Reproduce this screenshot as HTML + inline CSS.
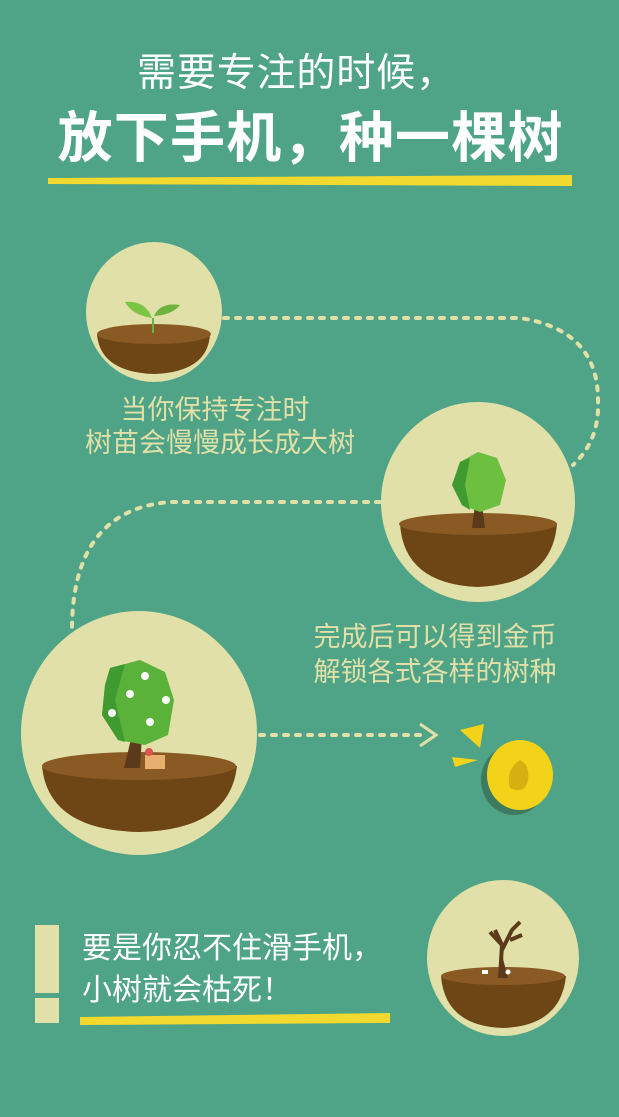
<!DOCTYPE html>
<html><head><meta charset="utf-8"><style>
html,body{margin:0;padding:0;background:#4fa386;}
svg{display:block}
text{font-family:"Liberation Sans","Noto Sans CJK SC",sans-serif}
</style></head><body>
<svg width="619" height="1117" viewBox="0 0 619 1117">
<rect width="619" height="1117" fill="#4fa386"/>
<text x="296" y="86" font-size="39" fill="#fff" text-anchor="middle" textLength="318">需要专注的时候，</text>
<text x="310" y="157" font-size="55" font-weight="bold" fill="#fff" text-anchor="middle" textLength="505">放下手机，种一棵树</text>
<path d="M48 178 L572 175 L572 186 L48 184 Z" fill="#f2d930"/>

<g fill="none" stroke="#e0e0a8" stroke-width="4" stroke-dasharray="4 8" stroke-linecap="round">
<path d="M224 318 L520 318 Q598 330 598 400 Q600 440 573 465"/>
<path d="M380 502 L170 502 Q72 510 72 630"/>
<path d="M260 735 L425 735"/>
</g>
<path d="M420 724 L436 735 L420 746" fill="none" stroke="#e0e0a8" stroke-width="3"/>

<g>
<ellipse cx="154" cy="312" rx="68" ry="70" fill="#e0e0a8"/>
<path d="M97 334 Q100 372 154 374 Q208 372 210 334 Z" fill="#6e4514"/>
<ellipse cx="154" cy="334" rx="57" ry="10" fill="#8a5a24"/>
<path d="M153 333 L153 318" stroke="#6db33f" stroke-width="2"/>
<path d="M152 318 Q132 315 125 302 Q145 300 152 318Z" fill="#7cc444"/>
<path d="M154 316 Q172 315 180 305 Q160 302 154 316Z" fill="#6db33f"/>
</g>
<text x="215" y="419" font-size="27" fill="#e0e0a8" text-anchor="middle">当你保持专注时</text>
<text x="220" y="452" font-size="27" fill="#e0e0a8" text-anchor="middle">树苗会慢慢成长成大树</text>

<g>
<ellipse cx="478" cy="502" rx="97" ry="100" fill="#e0e0a8"/>
<path d="M400 524 Q404 584 478 587 Q552 584 557 524 Z" fill="#6e4514"/>
<ellipse cx="478" cy="524" rx="79" ry="11" fill="#8a5a24"/>
<path d="M472 528 L475 505 L482 505 L485 528 Z" fill="#5a3a1a"/>
<path d="M460 462 L478 452 L497 458 L506 480 L500 505 L480 512 L462 505 L452 485 Z" fill="#6cbf3f"/>
<path d="M460 462 L470 458 L465 485 L470 510 L462 505 L452 485 Z" fill="#3f9a2f"/>
</g>
<text x="435" y="646" font-size="27" fill="#e0e0a8" text-anchor="middle">完成后可以得到金币</text>
<text x="435" y="681" font-size="27" fill="#e0e0a8" text-anchor="middle">解锁各式各样的树种</text>

<g>
<ellipse cx="139" cy="733" rx="118" ry="122" fill="#e0e0a8"/>
<path d="M42 766 Q48 830 139 832 Q230 830 237 766 Z" fill="#6e4514"/>
<ellipse cx="139" cy="766" rx="97" ry="14" fill="#8a5a24"/>
<path d="M124 768 L132 735 L142 735 L140 768 Z" fill="#5a3a1a"/>
<path d="M110 668 L140 660 L165 672 L174 700 L168 735 L145 745 L118 740 L102 715 L105 685 Z" fill="#5bb23a"/>
<path d="M110 668 L125 664 L115 700 L125 742 L118 740 L102 715 L105 685 Z" fill="#3f9a2f"/>
<g fill="#fff"><circle cx="145" cy="676" r="4"/><circle cx="130" cy="694" r="4"/><circle cx="166" cy="700" r="4"/><circle cx="112" cy="713" r="4"/><circle cx="150" cy="722" r="4"/></g>
<rect x="145" y="755" width="20" height="14" fill="#e8b070"/>
<circle cx="149" cy="752" r="4" fill="#d9534f"/>
</g>

<g>
<ellipse cx="514" cy="780" rx="33" ry="35" fill="#3e7a60"/>
<ellipse cx="520" cy="775" rx="33" ry="35" fill="#f3d21a"/>
<path d="M520 760 Q505 770 510 788 Q525 795 528 780 Q530 765 520 760Z" fill="#d4b010"/>
<path d="M460 730 L484 724 L480 748 Z" fill="#f3d21a"/>
<path d="M452 757 L478 760 L455 767 Z" fill="#f3d21a"/>
</g>

<g>
<rect x="35" y="925" width="24" height="68" fill="#e0e0a8"/>
<rect x="35" y="998" width="24" height="25" fill="#e0e0a8"/>
</g>
<text x="82" y="958" font-size="30" fill="#fff">要是你忍不住滑手机，</text>
<text x="82" y="1000" font-size="30" fill="#fff">小树就会枯死！</text>
<path d="M80 1017 L390 1013 L390 1023 L80 1025 Z" fill="#f2d930"/>

<g>
<ellipse cx="503" cy="958" rx="76" ry="78" fill="#e0e0a8"/>
<path d="M441 976 Q445 1026 503 1028 Q561 1026 566 976 Z" fill="#6e4514"/>
<ellipse cx="503" cy="976" rx="62" ry="9" fill="#8a5a24"/>
<path d="M500 978 L502 945 L490 932 M502 950 L512 930 L520 922 M502 945 L495 930 M510 940 L522 935" stroke="#5a3a1a" stroke-width="4" fill="none"/>
<path d="M498 978 L502 955 L508 978 Z" fill="#5a3a1a"/>
<rect x="482" y="970" width="6" height="4" fill="#fff"/><circle cx="508" cy="972" r="2.5" fill="#fff"/>
</g>
</svg>
</body></html>
